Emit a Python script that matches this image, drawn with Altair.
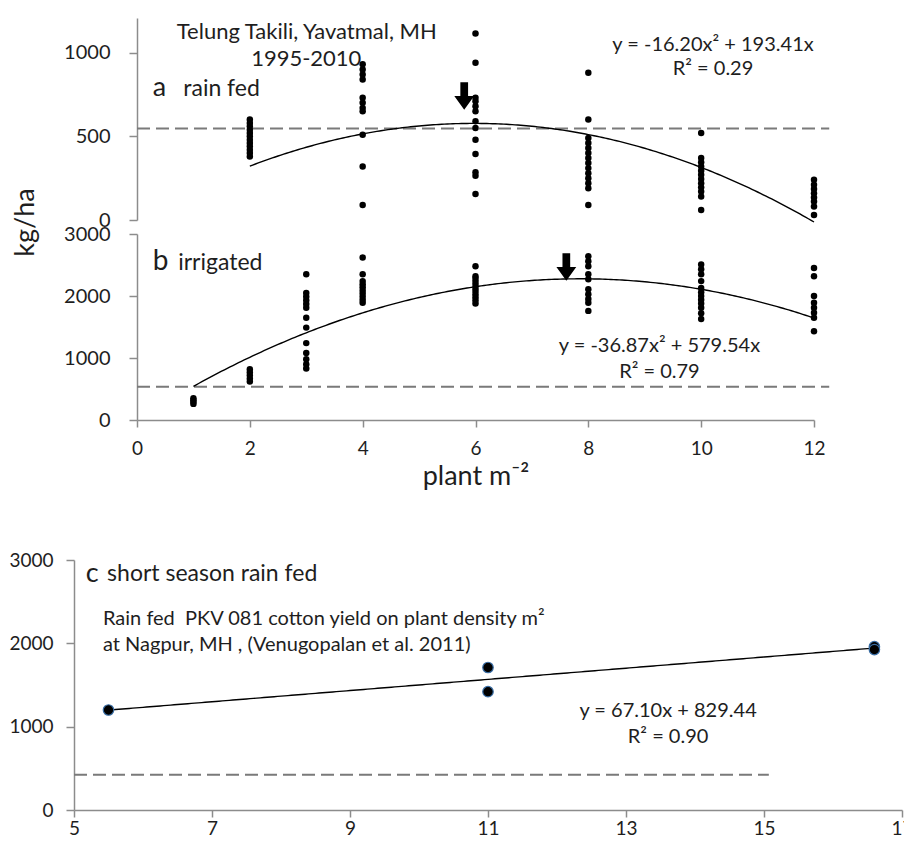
import altair as alt
import pandas as pd

FONT = "Lato"
INK = "#1e1e1e"
GRAY = "#8c8c8c"
NB = "\u00a0"

# ---------------- panel a : rain fed, Telung Takili ----------------
A_DENSITY = [2, 4, 6, 8, 10, 12]
A_2 = [600, 580, 560, 540, 520, 500, 480, 460, 440, 420, 400, 380]
A_4 = [930, 900, 870, 840, 730, 700, 670, 650, 510, 320, 90]
A_6 = [1115, 940, 730, 710, 680, 650, 590, 550, 480, 395, 285, 265, 155]
A_8 = [880, 600, 490, 460, 430, 400, 370, 340, 310, 280, 250, 220, 190, 90]
A_10 = [520, 370, 345, 320, 295, 270, 245, 220, 195, 170, 140, 60]
A_12 = [240, 210, 185, 160, 135, 110, 80, 30]
A_COLUMNS = [A_2, A_4, A_6, A_8, A_10, A_12]
A_QUAD, A_LIN = -16.20, 193.41          # y = -16.20x^2 + 193.41x
A_FIT_RANGE = [2, 12]
A_REF_LEVEL = [546]
A_REF_SPAN = [0, 12.27]
A_ARROW = [5.8, 741]

# ---------------- panel b : irrigated ----------------
B_DENSITY = [1, 2, 3, 4, 6, 8, 10, 12]
B_1 = [350, 320, 290, 260]
B_2 = [820, 770, 720, 670, 620]
B_3 = [2350, 2050, 1990, 1930, 1870, 1810, 1650, 1490, 1240, 1080, 980, 900, 830]
B_4 = [2620, 2350, 2240, 2190, 2140, 2090, 2040, 1990, 1940, 1890]
B_6 = [2480, 2320, 2280, 2230, 2180, 2130, 2080, 2030, 1980, 1930, 1880]
B_8 = [2640, 2560, 2480, 2350, 2270, 2110, 2030, 1950, 1890, 1760]
B_10 = [2510, 2430, 2350, 2240, 2130, 2060, 2000, 1940, 1880, 1810, 1720, 1630]
B_12 = [2450, 2320, 2000, 1890, 1810, 1730, 1650, 1430]
B_COLUMNS = [B_1, B_2, B_3, B_4, B_6, B_8, B_10, B_12]
B_QUAD, B_LIN = -36.87, 579.54          # y = -36.87x^2 + 579.54x
B_FIT_RANGE = [1, 12]
B_REF_LEVEL = [537]
B_REF_SPAN = [0, 12.27]
B_ARROW = [7.61, 2468]

# ---------------- panel c : short season rain fed, Nagpur ----------------
C_X = [5.5, 11, 11, 16.6, 16.6]
C_Y = [1200, 1710, 1420, 1960, 1925]
C_SLOPE, C_INTERCEPT = 67.10, 829.44    # y = 67.10x + 829.44
C_FIT_RANGE = [5.5, 16.6]
C_REF_LEVEL = [424]
C_REF_SPAN = [5, 15.07]


def columns_to_df(dens, cols):
    rows = [{"x": d, "y": v} for d, col in zip(dens, cols) for v in col]
    return pd.DataFrame(rows)


df_a = columns_to_df(A_DENSITY, A_COLUMNS)
df_b = columns_to_df(B_DENSITY, B_COLUMNS)
df_c = pd.DataFrame({"x": C_X, "y": C_Y})

AXIS_COMMON = dict(grid=False, labelFont=FONT, labelColor=INK, labelFlush=False,
                   labelOverlap=False, domainColor=GRAY, tickColor=GRAY,
                   domainWidth=1.5, tickWidth=1.5, format="d")

# ---------------- scales & axes ----------------
SX_AB = alt.Scale(domain=[0, 12], range=[63, 740], nice=False, zero=False)
AX_X_AB = alt.Axis(values=[0, 2, 4, 6, 8, 10, 12], title="plant m⁻²",
                   tickSize=7, labelPadding=12, labelFontSize=19,
                   titleFont=FONT, titleFontSize=27, titleFontWeight="normal",
                   titleColor=INK, titlePadding=5, **AXIS_COMMON)
SY_A = alt.Scale(domain=[0, 1207], range=[202, 0], nice=False, zero=False)
AX_Y_A = alt.Axis(orient="left", offset=-63, values=[0, 500, 1000], title=None,
                  tickSize=8, labelPadding=19, labelFontSize=20, **AXIS_COMMON)
SY_B = alt.Scale(domain=[0, 3000], range=[402, 216], nice=False, zero=False)
AX_Y_B = alt.Axis(orient="left", offset=-63, values=[0, 1000, 2000, 3000],
                  title="kg/ha", titleX=-98, titleY=204, titleFont=FONT,
                  titleFontSize=27, titleFontWeight="normal", titleColor=INK,
                  tickSize=8, labelPadding=19, labelFontSize=20, **AXIS_COMMON)
SX_C = alt.Scale(domain=[5, 17], nice=False, zero=False)
AX_X_C = alt.Axis(values=[5, 7, 9, 11, 13, 15, 17], title=None,
                  tickSize=7, labelPadding=2, labelFontSize=19, **AXIS_COMMON)
SY_C = alt.Scale(domain=[0, 3000], nice=False, zero=False)
AX_Y_C = alt.Axis(values=[0, 1000, 2000, 3000], title=None,
                  tickSize=8, labelPadding=13, labelFontSize=19, **AXIS_COMMON)

PANELS = {
    "a": (SX_AB, AX_X_AB, SY_A, AX_Y_A),
    "b": (SX_AB, AX_X_AB, SY_B, AX_Y_B),
    "c": (SX_C, AX_X_C, SY_C, AX_Y_C),
}


def ex(p, field="x"):
    sx, ax, _, _ = PANELS[p]
    return alt.X(f"{field}:Q", scale=sx, axis=ax)


def ey(p, field="y"):
    _, _, sy, ay = PANELS[p]
    return alt.Y(f"{field}:Q", scale=sy, axis=ay)


ARROW = "M-0.28,-1 L0.28,-1 L0.28,0 L0.72,0 L0,1 L-0.72,0 L-0.28,0 Z"


def text_layer(p, rows, size, align="left", baseline="middle"):
    df = pd.DataFrame(rows, columns=["x", "y", "t"])
    return alt.Chart(df).mark_text(font=FONT, fontSize=size, color=INK, align=align,
                                   baseline=baseline).encode(
        x=ex(p), y=ey(p), text="t:N")


def points(p, df, size, **kw):
    return alt.Chart(df).mark_circle(size=size, color="black", opacity=1, **kw).encode(
        x=ex(p), y=ey(p))


def curve(p, rng, expr):
    return (alt.Chart(alt.sequence(rng[0], rng[1] + 0.001, 0.05, as_="x"))
            .transform_calculate(y=expr)
            .mark_line(color="black", strokeWidth=1.4)
            .encode(x=ex(p), y=ey(p)))


def ref_line(p, span, level):
    df = pd.DataFrame({"x": [span[0]], "x2": [span[1]], "y": level})
    return alt.Chart(df).mark_rule(color="#7a7a7a", strokeWidth=2,
                                   strokeDash=[13, 6]).encode(
        x=ex(p), x2="x2:Q", y=ey(p))


def arrow(p, pos):
    df = pd.DataFrame({"x": [pos[0]], "y": [pos[1]]})
    return alt.Chart(df).mark_point(shape=ARROW, filled=True, color="black",
                                    opacity=1, size=760).encode(x=ex(p), y=ey(p))


layer_a = alt.layer(
    ref_line("a", A_REF_SPAN, A_REF_LEVEL),
    curve("a", A_FIT_RANGE, f"{A_QUAD}*datum.x*datum.x + {A_LIN}*datum.x"),
    points("a", df_a, 42),
    arrow("a", A_ARROW),
    text_layer("a", [[3.01, 1124, "Telung Takili, Yavatmal, MH"],
                     [3.0, 962, "1995-2010"]], 22, align="center"),
    text_layer("a", [[0.28, 741, "a"]], 27, baseline="alphabetic"),
    text_layer("a", [[0.82, 741, "rain fed"]], 23, baseline="alphabetic"),
    text_layer("a", [[10.21, 1046, "y = -16.20x² + 193.41x"],
                     [10.21, 903, "R² = 0.29"]], 20, align="center"),
)

layer_b = alt.layer(
    ref_line("b", B_REF_SPAN, B_REF_LEVEL),
    curve("b", B_FIT_RANGE, f"{B_QUAD}*datum.x*datum.x + {B_LIN}*datum.x"),
    points("b", df_b, 42),
    arrow("b", B_ARROW),
    text_layer("b", [[0.28, 2419, "b"]], 28, baseline="alphabetic"),
    text_layer("b", [[0.73, 2419, "irrigated"]], 23, baseline="alphabetic"),
    text_layer("b", [[9.26, 1194, "y = -36.87x² + 579.54x"],
                     [9.26, 774, "R² = 0.79"]], 20, align="center"),
)

panel_ab = (alt.layer(layer_a, layer_b)
            .resolve_scale(y="independent")
            .resolve_axis(y="independent")
            .properties(width=828, height=402))

panel_c = alt.layer(
    ref_line("c", C_REF_SPAN, C_REF_LEVEL),
    curve("c", C_FIT_RANGE, f"{C_SLOPE}*datum.x + {C_INTERCEPT}"),
    points("c", df_c, 110, stroke="#3a6ea5", strokeWidth=1.2),
    text_layer("c", [[5.17, 2833, "c"]], 27),
    text_layer("c", [[5.48, 2833, "short season rain fed"]], 23),
    text_layer("c", [[5.42, 2293, f"Rain fed{NB}{NB}PKV 081 cotton yield on plant density m²"],
                     [5.42, 1981, f"{NB}at Nagpur, MH , (Venugopalan et al. 2011)"]], 20),
    text_layer("c", [[13.61, 1188, "y = 67.10x + 829.44"],
                     [13.61, 876, "R² = 0.90"]], 20, align="center"),
).properties(width=828, height=250)

chart = (alt.vconcat(panel_ab, panel_c, spacing=140, bounds="flush")
         .properties(padding={"left": 0, "top": 10, "right": -10, "bottom": 1})
         .configure_view(stroke=None)
         .configure_axis(grid=False))

chart.save("out.html", embed_options={"renderer": "svg", "actions": False})
